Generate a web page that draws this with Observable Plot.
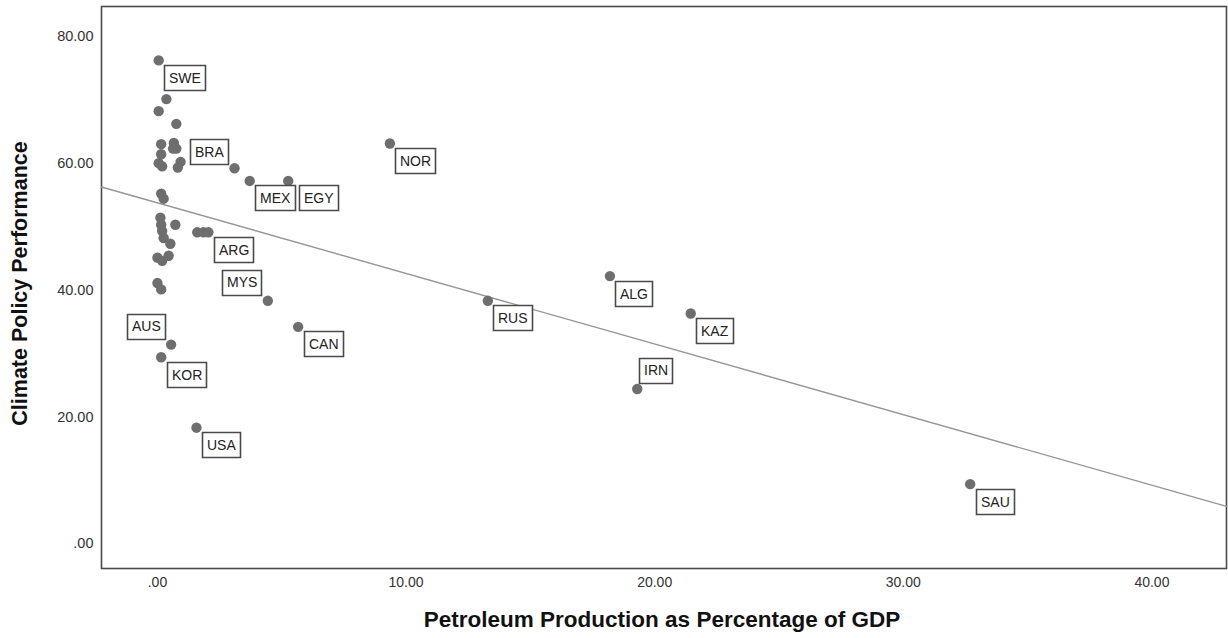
<!DOCTYPE html>
<html>
<head>
<meta charset="utf-8">
<script src="https://cdn.jsdelivr.net/npm/d3@7"></script>
<script src="https://cdn.jsdelivr.net/npm/@observablehq/plot@0.6"></script>
<style>
  html, body { margin: 0; padding: 0; background: #fff; }
  #chart svg { display: block; }
</style>
</head>
<body>
<div id="chart"></div>
<script>
// ---- Data ----
const labels = ["SWE","","","","","","BRA","","","","","","","","MEX","EGY","NOR",
  "","","","","","","","","","","ARG","","","","","","MYS","CAN","AUS","KOR","USA",
  "RUS","ALG","KAZ","IRN","SAU"];
const petroleumPct = [0.05,0.36,0.05,0.76,0.15,0.66,0.76,0.63,0.15,0.05,0.19,0.93,0.82,3.10,3.71,5.26,9.35,
  0.15,0.25,0.12,0.15,0.19,0.25,0.52,0.72,1.60,1.85,2.05,0.00,0.45,0.19,0.00,0.15,4.44,5.66,0.55,0.15,1.57,
  13.29,18.20,21.45,19.30,32.69];
const climateScore = [76.2,70.1,68.2,66.2,63.0,63.2,62.3,62.3,61.4,60.0,59.5,60.2,59.3,59.2,57.2,57.2,63.1,
  55.2,54.4,51.4,50.3,49.3,48.2,47.3,50.3,49.1,49.1,49.1,45.1,45.4,44.6,41.1,40.1,38.3,34.2,31.4,29.4,18.3,
  38.3,42.2,36.3,24.4,9.4];
const xTicks = [0, 10, 20, 30, 40];
const yTicks = [0, 20, 40, 60, 80];
const xTitle = "Petroleum Production as Percentage of GDP";
const yTitle = "Climate Policy Performance";

// ---- Build table ----
const data = petroleumPct.map((x, i) => ({x, y: climateScore[i], label: labels[i]}));

// ---- Linear fit (least squares) computed from the data ----
const mx = d3.mean(data, d => d.x), my = d3.mean(data, d => d.y);
const slope = d3.sum(data, d => (d.x - mx) * (d.y - my)) / d3.sum(data, d => (d.x - mx) ** 2);
const intercept = my - slope * mx;

const xDomain = [-2.25, 43.0];
const yDomain = [-3.9, 84.7];
const fitLine = xDomain.map(x => ({x, y: intercept + slope * x}));

const fmt = d => d === 0 ? ".00" : d.toFixed(2);
const font = "'Liberation Sans', Arial, sans-serif";

const tipStyle = {
  x: "x", y: "y", title: "label",
  pointerSize: 0, textPadding: 4.5, fontSize: 14, fontFamily: font,
  fill: "white", stroke: "#4a4a4a", strokeWidth: 1.6, pathFilter: "none"
};
const special = new Set(["AUS", "MYS", "IRN", "BRA", "EGY"]);

const chart = Plot.plot({
  width: 1228,
  height: 638,
  marginLeft: 101,
  marginRight: 2,
  marginTop: 6,
  marginBottom: 70,
  style: {fontFamily: font, background: "#fff", color: "#222"},
  x: {domain: xDomain, axis: null},
  y: {domain: yDomain, axis: null},
  marks: [
    Plot.frame({stroke: "#4a4a4a", strokeWidth: 1.6}),
    Plot.axisX(xTicks, {tickFormat: fmt, tickSize: 0, tickPadding: 9, fontSize: 14, color: "#333", label: null}),
    Plot.axisY(yTicks, {tickFormat: fmt, tickSize: 0, tickPadding: 8, fontSize: 14.5, color: "#333", label: null}),
    Plot.text([yTitle], {frameAnchor: "left", textAnchor: "middle", rotate: -90, dx: -81, dy: -4, fontSize: 21.5, fontWeight: "bold", fill: "#111"}),
    Plot.text([xTitle], {frameAnchor: "bottom", dy: 58, dx: -2, fontSize: 22.5, fontWeight: "bold", fill: "#111"}),
    Plot.line(fitLine, {x: "x", y: "y", stroke: "#959595", strokeWidth: 1.4}),
    Plot.dot(data, {x: "x", y: "y", r: 5.2, fill: "#6e6e6e", stroke: "none"}),
    Plot.tip(data, {...tipStyle, filter: d => d.label !== "" && !special.has(d.label), anchor: "top-left", dx: 6, dy: 5}),
    Plot.tip(data, {...tipStyle, filter: d => d.label === "EGY", anchor: "top-left", dx: 11, dy: 5}),
    Plot.tip(data, {...tipStyle, filter: d => d.label === "BRA", anchor: "top-left", dx: 14, dy: -9}),
    Plot.tip(data, {...tipStyle, filter: d => d.label === "AUS" || d.label === "MYS", anchor: "bottom-right", dx: -6, dy: -5}),
    Plot.tip(data, {...tipStyle, filter: d => d.label === "IRN", anchor: "bottom-left", dx: 2, dy: -5})
  ]
});
document.getElementById("chart").appendChild(chart);
</script>
</body>
</html>
